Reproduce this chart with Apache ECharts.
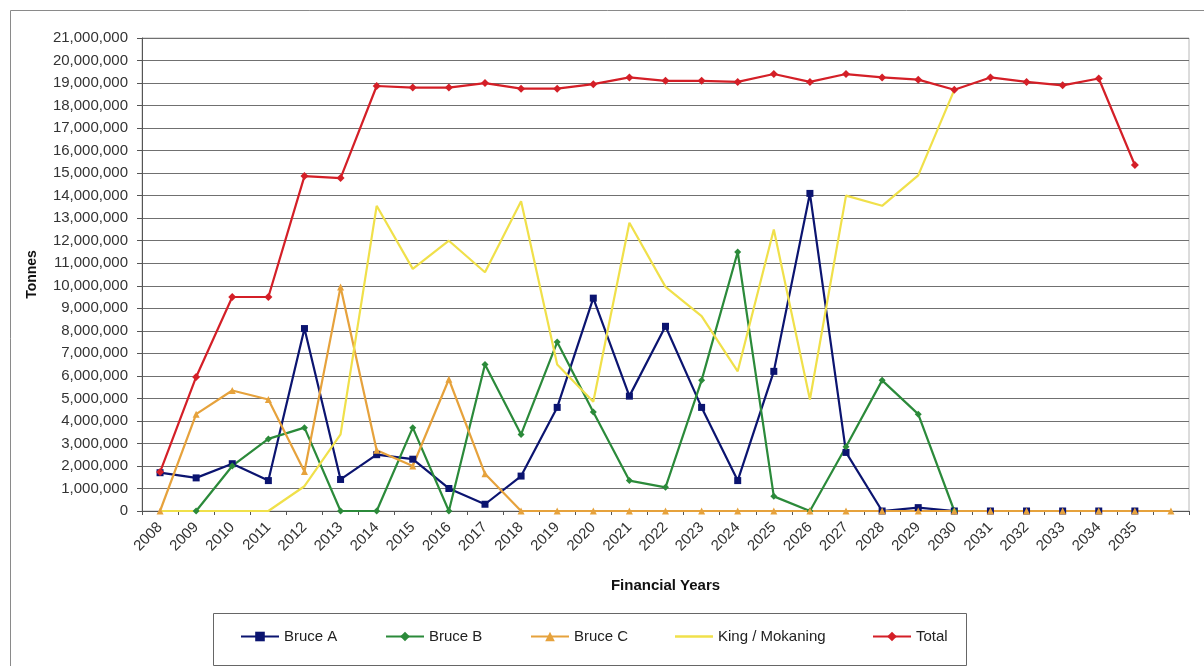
<!DOCTYPE html>
<html>
<head>
<meta charset="utf-8">
<script src="https://cdn.jsdelivr.net/npm/echarts@6/dist/echarts.min.js"></script>
<style>
  html, body { margin: 0; padding: 0; background: #fff; }
  #chart { width: 1204px; height: 666px; }
</style>
</head>
<body>
<div id="chart"></div>
<script>
// Financial years (last band is unlabelled)
const years = ['2008','2009','2010','2011','2012','2013','2014','2015','2016','2017',
  '2018','2019','2020','2021','2022','2023','2024','2025','2026','2027',
  '2028','2029','2030','2031','2032','2033','2034','2035',''];

// Tonnes per financial year
const bruceA = [1700000,1470000,2100000,1350000,8100000,1400000,2500000,2300000,1000000,300000,
  1550000,4600000,9450000,5100000,8200000,4600000,1350000,6200000,14100000,2600000,
  0,150000,0,0,0,0,0,0,null];
const bruceB = [null,0,2000000,3200000,3700000,0,0,3700000,0,6500000,
  3400000,7500000,4400000,1350000,1050000,5800000,11500000,650000,0,2850000,
  5800000,4300000,0,null,null,null,null,null,null];
const bruceC = [0,4300000,5350000,4950000,1750000,9950000,2700000,2000000,5850000,1650000,
  0,0,0,0,0,0,0,0,0,0,
  0,0,0,0,0,0,0,0,0];
const kingMokaning = [0,0,0,0,1100000,3400000,13550000,10750000,12000000,10600000,
  13750000,6500000,4850000,12800000,9950000,8650000,6200000,12500000,4950000,14000000,
  13550000,14900000,18700000,null,null,null,null,null,null];
const total = [1730000,5950000,9500000,9500000,14870000,14780000,18870000,18800000,18800000,19000000,
  18750000,18750000,18950000,19250000,19100000,19100000,19050000,19400000,19050000,19400000,
  19250000,19150000,18700000,19250000,19050000,18900000,19200000,15360000,null];

const FONT = '"Liberation Sans", Arial, sans-serif';

const seriesDefs = [
  { name: 'Bruce A', data: bruceA, color: '#0b1470', symbol: 'rect', size: 7 },
  { name: 'Bruce B', data: bruceB, color: '#2b8a3a', symbol: 'diamond', size: 7 },
  { name: 'Bruce C', data: bruceC, color: '#e6a23c', symbol: 'triangle', size: 7 },
  { name: 'King / Mokaning', data: kingMokaning, color: '#f0e04a', symbol: 'none', size: 0 },
  { name: 'Total', data: total, color: '#d41f27', symbol: 'diamond', size: 8 }
];

// One legend per entry, laid out in a single boxed row
const legendLeft = [240, 385, 530, 675, 872];
const legends = seriesDefs.map((s, i) => ({
  data: [s.symbol === 'none'
    ? { name: s.name, icon: 'path://M0,0 L38,0 L38,2.4 L0,2.4 Z' }
    : s.name],
  left: legendLeft[i],
  top: 629,
  padding: 0,
  itemWidth: 38,
  itemHeight: 12,
  itemGap: 4,
  selectedMode: false,
  textStyle: { fontFamily: FONT, fontSize: 15, color: '#222' }
}));

const chart = echarts.init(document.getElementById('chart'), null, { renderer: 'canvas' });
chart.setOption({
  backgroundColor: '#ffffff',
  animation: false,
  graphic: [
    { type: 'rect', shape: { x: 10.5, y: 10.5, width: 1210, height: 700 },
      style: { fill: 'none', stroke: '#8a8a8a', lineWidth: 1 }, silent: true },
    { type: 'rect', shape: { x: 213.5, y: 613.5, width: 753, height: 52 },
      style: { fill: 'none', stroke: '#666', lineWidth: 1 }, silent: true }
  ],
  legend: legends,
  grid: { left: 142, right: 15, top: 38, bottom: 155, show: true,
    borderColor: '#b8b8b8', borderWidth: 1, backgroundColor: 'transparent' },
  xAxis: {
    type: 'category',
    data: years,
    boundaryGap: true,
    name: 'Financial Years',
    nameLocation: 'middle',
    nameGap: 67,
    nameTextStyle: { fontFamily: FONT, fontSize: 15, fontWeight: 'bold', color: '#111' },
    axisLine: { lineStyle: { color: '#555', width: 1 } },
    axisTick: { show: true, interval: 0, length: 4, lineStyle: { color: '#555' } },
    axisLabel: { interval: 0, rotate: 45, margin: 14, fontFamily: FONT, fontSize: 15, color: '#333' },
    splitLine: { show: false }
  },
  yAxis: {
    type: 'value',
    min: 0,
    max: 21000000,
    interval: 1000000,
    name: 'Tonnes',
    nameLocation: 'middle',
    nameGap: 103,
    nameRotate: 90,
    nameTextStyle: { fontFamily: FONT, fontSize: 14, fontWeight: 'bold', color: '#111' },
    axisLine: { show: true, lineStyle: { color: '#555', width: 1 } },
    axisTick: { show: true, length: 5, lineStyle: { color: '#555' } },
    axisLabel: {
      margin: 14, fontFamily: FONT, fontSize: 15, color: '#333',
      formatter: v => v.toLocaleString('en-US')
    },
    splitLine: { show: true, lineStyle: { color: '#707070', width: 1.2 } }
  },
  series: seriesDefs.map(s => ({
    name: s.name,
    type: 'line',
    data: s.data,
    symbol: s.symbol,
    symbolSize: s.size,
    showSymbol: s.symbol !== 'none',
    connectNulls: false,
    lineStyle: { color: s.color, width: 2.2 },
    itemStyle: { color: s.color },
    emphasis: { disabled: true }
  }))
});
</script>
</body>
</html>
